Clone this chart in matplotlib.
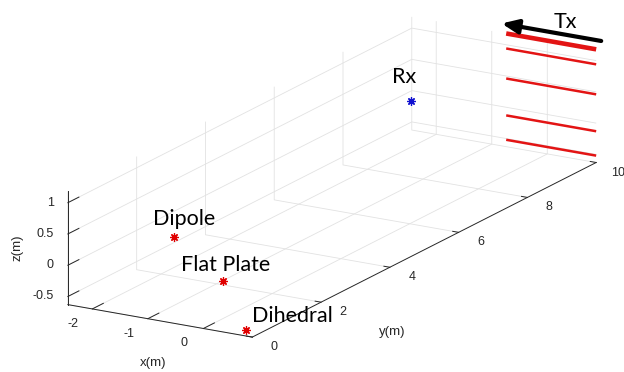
import matplotlib.pyplot as plt
from matplotlib.transforms import ScaledTranslation
from mpl_toolkits.mplot3d import proj3d

plt.rcParams['font.family'] = ['Liberation Sans', 'DejaVu Sans']
plt.rcParams['axes.unicode_minus'] = False
plt.rcParams['axes3d.automargin'] = False

# --- scene (metres) ---
target_names = ['Dipole', 'Flat Plate', 'Dihedral']
target_x = [-0.53, 0.35, 0.77]
target_y = [0.0, 0.0, 0.0]
target_z = [0.75, 0.19, -0.53]

rx_x, rx_y, rx_z = -2.18, 9.55, 0.0

# transmitter elements: segments along x at the far end of the range
tx_x = [-0.74, 0.88]
tx_y = 10.0
tx_z = [1.18, 0.94, 0.46, -0.13, -0.52]
tx_lw = [3.3, 1.8, 1.8, 1.8, 1.8]

xlim = (-2.44, 0.88)
ylim = (0, 10)
zlim = (-0.63, 1.18)
xticks = [-2, -1, 0]
yticks = [0, 2, 4, 6, 8, 10]
zticks = [-0.5, 0, 0.5, 1]
zticklabels = ['-0.5', '0', '0.5', '1']

DPI = 100
fig = plt.figure(figsize=(6.24, 3.72), dpi=DPI)
ax = fig.add_axes([15 / 624, 4 / 372, 1, 1], projection='3d', proj_type='ortho')
ax.view_init(elev=17.4, azim=-59.5)
ax.set_box_aspect((214.7, 679.8, 119.0), zoom=1.88)

ax.set_xlim(xlim)
ax.set_ylim(ylim)
ax.set_zlim(zlim)
ax.set_xticks(xticks)
ax.set_yticks(yticks)
ax.set_zticks(zticks)
ax.set_xticklabels([])
ax.set_yticklabels([])
ax.set_zticklabels([])
ax.zaxis.set_ticks_position('lower')

ink = '#262626'
for axis in (ax.xaxis, ax.yaxis, ax.zaxis):
    axis.set_pane_color((1, 1, 1, 0))
    axis.pane.set_edgecolor('none')
    axis.line.set_color(ink)
    axis.line.set_linewidth(0.7)
    axis._axinfo['grid'].update(color='#e2e2e2', linewidth=0.6)
    axis._axinfo['tick'].update(inward_factor=0.0, outward_factor=0.4,
                                linewidth={True: 0.7, False: 0.5})
    axis.set_tick_params(colors=ink)

# transmitter lines
for z, lw in zip(tx_z, tx_lw):
    ax.plot(tx_x, [tx_y, tx_y], [z, z], color='#e31414', lw=lw,
            solid_capstyle='butt', clip_on=False)

# targets and receiver
ax.plot(target_x, target_y, target_z, ls='none', marker=(8, 2, 0),
        ms=6, mew=0.9, color='#e00000', clip_on=False)
ax.plot([rx_x], [rx_y], [rx_z], ls='none', marker=(8, 2, 0),
        ms=6, mew=0.9, color='#1010d0', clip_on=False)

fig.canvas.draw()
M = ax.get_proj()


def project(x, y, z):
    px, py, _ = proj3d.proj_transform(x, y, z, M)
    return px, py


def shifted(dx, dy):
    # offset in pixels from a projected data point
    return ax.transData + ScaledTranslation(dx / DPI, dy / DPI, fig.dpi_scale_trans)


# tick labels, placed next to the ticks the way MATLAB does it
tick_font = dict(fontsize=9, color=ink)
for x in xticks:
    px, py = project(x, ylim[0], zlim[0])
    ax.text2D(px, py, f'{x:g}', transform=shifted(-19, -15),
              ha='center', va='center', **tick_font)
for y in yticks:
    px, py = project(xlim[1], y, zlim[0])
    ax.text2D(px, py, f'{y:g}', transform=shifted(22, -10),
              ha='center', va='center', **tick_font)
for z, lab in zip(zticks, zticklabels):
    px, py = project(xlim[0], ylim[0], z)
    ax.text2D(px, py, lab, transform=shifted(-14, 0),
              ha='right', va='center', **tick_font)

label_font = dict(family=['Lato', 'DejaVu Sans'], fontsize=15.5, color='black',
                  ha='left', va='baseline')
label_offsets = [(-21, 12), (-42, 10), (6, 8)]
for name, x, y, z, (dx, dy) in zip(target_names, target_x, target_y, target_z,
                                   label_offsets):
    px, py = project(x, y, z)
    ax.text2D(px, py, name, transform=shifted(dx, dy), **label_font)

px, py = project(rx_x, rx_y, rx_z)
ax.text2D(px, py, 'Rx', transform=shifted(-19, 18), **label_font)

# Tx label and arrow, anchored at the left end of the top element
px, py = project(tx_x[0], tx_y, tx_z[0])
ax.text2D(px, py, 'Tx', transform=shifted(47, 5), **label_font)
ax.annotate('', xy=(px, py), xycoords=shifted(-4.6, 10),
            xytext=(px, py), textcoords=shifted(95, -7.5),
            arrowprops=dict(arrowstyle='-|>,head_length=0.7,head_width=0.3',
                            color='black', lw=3, mutation_scale=14,
                            shrinkA=0, shrinkB=0))

axis_font = dict(fontsize=9.5, color=ink, ha='center', va='center')
fig.text(153 / 624, 1 - 363 / 372, 'x(m)', **axis_font)
fig.text(392 / 624, 1 - 332 / 372, 'y(m)', **axis_font)
fig.text(18 / 624, 1 - 248 / 372, 'z(m)', rotation=90, **axis_font)

fig.savefig('out.png', dpi=DPI)
